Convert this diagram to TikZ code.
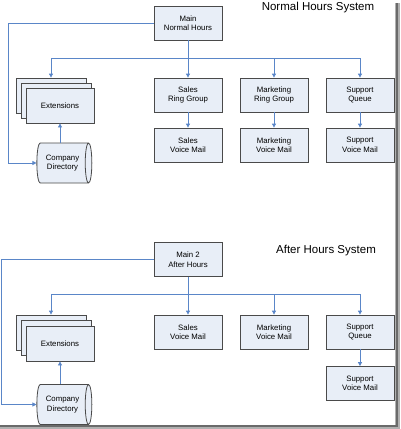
\documentclass[tikz,border=0pt]{standalone}
\usepackage{fontspec}
\setmainfont{Liberation Sans}
\usetikzlibrary{shapes.geometric,arrows.meta}
\definecolor{boxfill}{HTML}{E8EEF7}
\definecolor{boxline}{HTML}{4A4A4A}
\definecolor{connc}{HTML}{5A86C8}
\definecolor{frameA}{HTML}{B0B0B0}
\definecolor{frameB}{HTML}{6A6A6A}
\begin{document}
\begin{tikzpicture}[x=1pt,y=-1pt,
  box/.style={draw=boxline,fill=boxfill,line width=0.8pt,minimum width=68pt,minimum height=34pt,inner sep=0pt,align=center,font=\fontsize{7.8}{9.5}\selectfont},
  db/.style={cylinder,shape border rotate=0,shape aspect=0.4,draw=boxline,fill=boxfill,line width=0.8pt,minimum width=40pt,minimum height=55pt,inner sep=0pt,align=center,font=\fontsize{7.8}{9.5}\selectfont},
  conn/.style={draw=connc,line width=0.8pt},
  arr/.style={conn,-{Triangle[width=4pt,length=4pt]}},
  title/.style={font=\fontsize{11.5}{13}\selectfont}]
\useasboundingbox (0,0) rectangle (400,429);
% frame shadow
\fill[frameA] (395,3) rectangle (400,429);
\fill[frameA] (0,425) rectangle (400,429);
\draw[frameB,line width=1.2pt] (397,3) -- (397,426) -- (0,426);

% ---------- Normal hours ----------
\node[title] (t1) at (318,8) {Normal Hours System};
\node[box] (m1) at (188,23) {Main\\Normal Hours};
\node[box] (s1) at (188,95) {Sales\\Ring Group};
\node[box] (k1) at (274,95) {Marketing\\Ring Group};
\node[box] (q1) at (360,95) {Support\\Queue};
\node[box] (sv1) at (188,145) {Sales\\Voice Mail};
\node[box] (kv1) at (274,145) {Marketing\\Voice Mail};
\node[box] (qv1) at (360,145) {Support\\Voice Mail};
\node[box,minimum width=70pt,minimum height=35pt] (ea1) at (51,95.5) {};
\node[box,minimum width=70pt,minimum height=35pt] (eb1) at (56,100.5) {};
\node[box,minimum width=68pt,minimum height=35pt] (ec1) at (60,105.5) {Extensions};
\node[db] (c1) at (62.5,163) {Company\\Directory};

\coordinate (bl1) at (51,58);
\coordinate (br1) at (360,58);
\coordinate (lc1) at (8,23);
\draw[conn] (bl1) -- (br1);
\draw[arr] (m1.south) -- (s1.north);
\draw[arr] (bl1) -- (ea1.north);
\draw[arr] (k1.north |- bl1) -- (k1.north);
\draw[arr] (br1) -- (q1.north);
\draw[arr] (s1) -- (sv1);
\draw[arr] (k1) -- (kv1);
\draw[arr] (q1) -- (qv1);
\draw[arr] (m1.west) -- (lc1) |- (c1.west);
\draw[arr] (ec1.south |- c1.north) -- (ec1.south);

% ---------- After hours ----------
\node[title] (t2) at (326,251) {After Hours System};
\node[box] (m2) at (188,259.5) {Main 2\\After Hours};
\node[box] (sv2) at (188,332) {Sales\\Voice Mail};
\node[box] (kv2) at (274,332) {Marketing\\Voice Mail};
\node[box] (q2) at (360,332) {Support\\Queue};
\node[box] (qv2) at (360,383.5) {Support\\Voice Mail};
\node[box,minimum width=70pt,minimum height=35pt] (ea2) at (51,332.5) {};
\node[box,minimum width=70pt,minimum height=35pt] (eb2) at (56,338) {};
\node[box,minimum width=68pt,minimum height=35pt] (ec2) at (60,343.5) {Extensions};
\node[db] (c2) at (62.5,404.5) {Company\\Directory};

\coordinate (bl2) at (51,294);
\coordinate (br2) at (360,294);
\coordinate (lc2) at (1,259.5);
\draw[conn] (bl2) -- (br2);
\draw[arr] (m2.south) -- (sv2.north);
\draw[arr] (bl2) -- (ea2.north);
\draw[arr] (kv2.north |- bl2) -- (kv2.north);
\draw[arr] (br2) -- (q2.north);
\draw[arr] (q2) -- (qv2);
\draw[arr] (m2.west) -- (lc2) |- (c2.west);
\draw[arr] (ec2.south |- c2.north) -- (ec2.south);
\end{tikzpicture}
\end{document}
